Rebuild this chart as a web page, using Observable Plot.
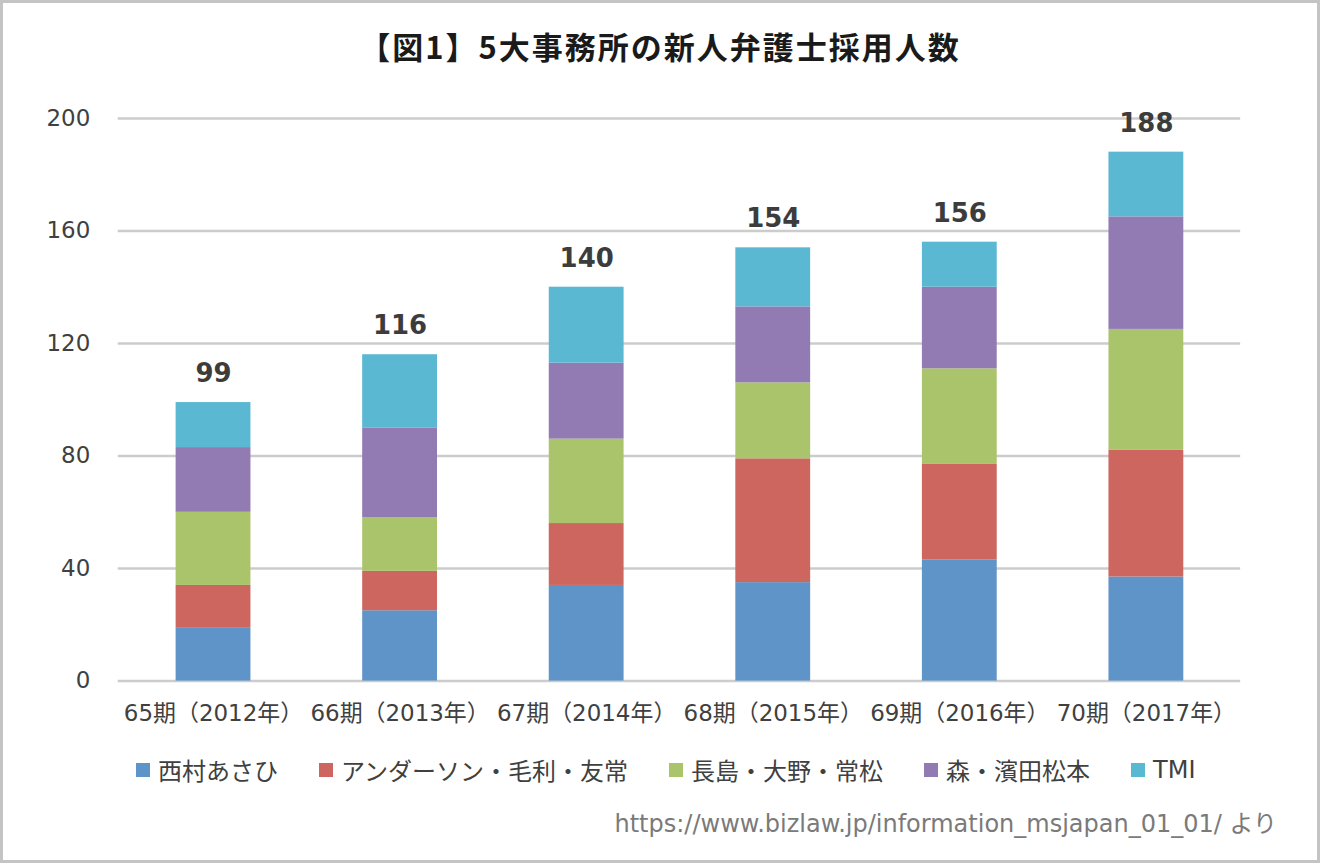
<!DOCTYPE html>
<html>
<head>
<meta charset="utf-8">
<script src="https://cdn.jsdelivr.net/npm/d3@7"></script>
<script src="https://cdn.jsdelivr.net/npm/@observablehq/plot@0.6"></script>
<style>
  html, body { margin: 0; padding: 0; background: #fff; }
  #frame {
    position: relative; width: 1314px; height: 857px;
    border: 3px solid #c4c4c4; background: #fff; overflow: hidden;
    font-family: "DejaVu Sans", "Noto Sans CJK JP", sans-serif;
  }
  #title {
    position: absolute; left: 0; right: 0; top: 20px; text-align: center;
    font-family: "Noto Sans CJK JP", sans-serif; font-weight: 700; font-size: 31px; letter-spacing: 2px; color: #1a1a1a;
  }
  #chart { position: absolute; left: -3px; top: 71px; }
  #legend {
    position: absolute; left: 133px; top: 749px; display: flex; gap: 41px;
    font-size: 24px; color: #404040; font-family: "DejaVu Sans", "Noto Sans CJK JP", sans-serif;
  }
  #legend .item { display: flex; align-items: center; gap: 8px; }
  #legend .sw { width: 14px; height: 14px; display: inline-block; }
  #caption {
    position: absolute; right: 40px; top: 801px; font-size: 24px; color: #7a7a7a;
  }
</style>
</head>
<body>
<div id="frame">
  <div id="title">【図1】5大事務所の新人弁護士採用人数</div>
  <div id="chart"></div>
  <div id="legend"></div>
  <div id="caption">https://www.bizlaw.jp/information_msjapan_01_01/ より</div>
</div>
<script>
const categories = ["65期（2012年）", "66期（2013年）", "67期（2014年）", "68期（2015年）", "69期（2016年）", "70期（2017年）"];
const seriesNames = ["西村あさひ", "アンダーソン・毛利・友常", "長島・大野・常松", "森・濱田松本", "TMI"];
const nishimura = [19, 25, 34, 35, 43, 37];
const anderson  = [15, 14, 22, 44, 34, 45];
const nagashima = [26, 19, 30, 27, 34, 43];
const mori      = [23, 32, 27, 27, 29, 40];
const tmi       = [16, 26, 27, 21, 16, 23];
const totals    = [99, 116, 140, 154, 156, 188];
const yTicks    = [0, 40, 80, 120, 160, 200];
const colors    = ["#5f94c8", "#cc665e", "#aac46c", "#927ab3", "#5ab8d2"];

const seriesValues = [nishimura, anderson, nagashima, mori, tmi];
const rows = [];
seriesNames.forEach((s, i) => {
  categories.forEach((c, j) => rows.push({category: c, series: s, value: seriesValues[i][j]}));
});
const totalRows = categories.map((c, j) => ({category: c, total: totals[j]}));

const plot = Plot.plot({
  width: 1320,
  height: 667,
  marginTop: 44,
  marginBottom: 59,
  marginLeft: 118,
  marginRight: 77,
  style: {fontFamily: '"DejaVu Sans", "Noto Sans CJK JP", sans-serif', fontSize: "23px", color: "#404040", background: "transparent"},
  x: {domain: categories, paddingInner: 0.6, paddingOuter: 0.3, label: null},
  y: {domain: [0, 200], label: null},
  color: {domain: seriesNames, range: colors},
  marks: [
    Plot.ruleY(yTicks, {y: d => d, stroke: "#cccccc", strokeWidth: 2.5}),
    Plot.barY(rows, Plot.stackY({x: "category", y: "value", fill: "series", order: seriesNames})),
    Plot.text(totalRows, {x: "category", y: "total", text: d => String(d.total), dy: -29, fontSize: 26, fontWeight: "bold", fill: "#3c3c3c"}),
    Plot.axisY({ticks: yTicks, tickSize: 0, tickPadding: 28, line: true, stroke: "#c8c8c8", strokeWidth: 2.5, fill: "#404040"}),
    Plot.axisX({tickSize: 0, tickPadding: 24, fill: "#404040"})
  ]
});
document.getElementById("chart").appendChild(plot);

const legend = document.getElementById("legend");
seriesNames.forEach((s, i) => {
  const item = document.createElement("div");
  item.className = "item";
  const sw = document.createElement("span");
  sw.className = "sw";
  sw.style.background = colors[i];
  const t = document.createElement("span");
  t.textContent = s;
  item.appendChild(sw);
  item.appendChild(t);
  legend.appendChild(item);
});
</script>
</body>
</html>
